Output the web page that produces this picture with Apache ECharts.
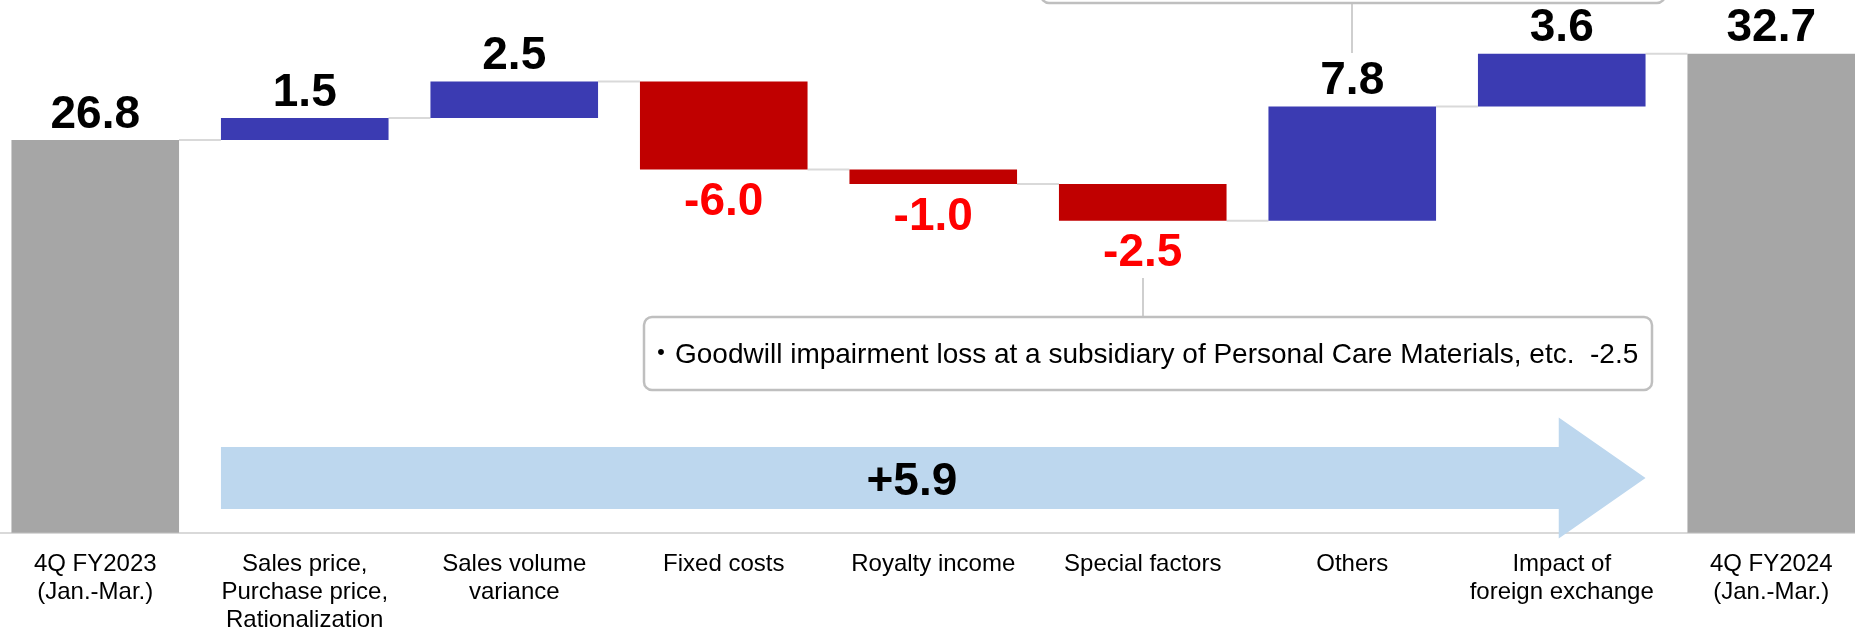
<!DOCTYPE html>
<html>
<head>
<meta charset="utf-8">
<script src="https://cdn.jsdelivr.net/npm/echarts@6/dist/echarts.min.js"></script>
<style>
  html, body { margin: 0; padding: 0; background: #fff; }
  #chart { width: 1855px; height: 635px; }
</style>
</head>
<body>
<div id="chart"></div>
<script>
// categories and values (first and last are totals, the rest are changes)
const categories = [
  '4Q FY2023\n(Jan.-Mar.)',
  'Sales price,\nPurchase price,\nRationalization',
  'Sales volume\nvariance',
  'Fixed costs',
  'Royalty income',
  'Special factors',
  'Others',
  'Impact of\nforeign exchange',
  '4Q FY2024\n(Jan.-Mar.)'
];
const values = [26.8, 1.5, 2.5, -6.0, -1.0, -2.5, 7.8, 3.6, 32.7];
const isTotal = [true, false, false, false, false, false, false, false, true];

const FONT = "'Liberation Sans', Arial, 'Noto Sans CJK JP', sans-serif";
const BLUE = '#3B3BB2';
const RED = '#C00000';
const GRAY = '#A6A6A6';

// build the invisible base and the visible part of every bar
const baseData = [];
const barData = [];
const levels = [];
let run = 0;
values.forEach((v, i) => {
  let base, height, color;
  if (isTotal[i]) {
    base = 0; height = v; run = v; color = GRAY;
  } else if (v >= 0) {
    base = run; height = v; run += v; color = BLUE;
  } else {
    base = run + v; height = -v; run += v; color = RED;
  }
  levels.push(+run.toFixed(1));
  baseData.push(+base.toFixed(1));
  barData.push({
    value: +height.toFixed(1),
    itemStyle: { color: color },
    label: v < 0
      ? { position: 'bottom', distance: 10, color: '#FF0000' }
      : { position: 'top', distance: 2, color: '#000' },
    delta: v
  });
});

// connector lines between neighbouring bars
const connectorData = levels.slice(0, -1).map((l, i) => [i, l]);

// big arrow over the changes: total change from first to last total
const totalChange = values[values.length - 1] - values[0];
const arrowData = [[1, 7, 3.73]];

const chart = echarts.init(document.getElementById('chart'));

const options = {
  animation: false,
  grid: { left: -9.5, right: -21, top: 5.3, bottom: 102.3, outerBoundsMode: 'none', containLabel: false },
  xAxis: {
    type: 'category',
    data: categories,
    axisLine: { lineStyle: { color: '#D9D9D9', width: 2 } },
    axisTick: { show: false },
    axisLabel: {
      interval: 0,
      margin: 18,
      fontSize: 24,
      lineHeight: 28,
      color: '#000',
      fontFamily: FONT
    }
  },
  yAxis: { type: 'value', min: 0, max: 36, show: false },
  series: [
    {
      type: 'bar',
      stack: 'w',
      barWidth: '80%',
      itemStyle: { color: 'transparent' },
      silent: true,
      data: baseData
    },
    {
      type: 'bar',
      stack: 'w',
      barWidth: '80%',
      label: {
        show: true,
        fontSize: 46,
        fontWeight: 'bold',
        fontFamily: FONT,
        formatter: p => p.data.delta.toFixed(1)
      },
      data: barData
    },
    {
      type: 'custom',
      z: 1,
      silent: true,
      data: connectorData,
      renderItem: (params, api) => {
        const p = api.coord([api.value(0), api.value(1)]);
        const w = api.size([1, 0])[0];
        const bw = w * 0.8;
        return {
          type: 'line',
          shape: { x1: p[0] + bw / 2, y1: p[1], x2: p[0] + w - bw / 2, y2: p[1] },
          style: { stroke: '#D9D9D9', lineWidth: 2 }
        };
      }
    },
    {
      type: 'custom',
      z: 3,
      silent: true,
      data: arrowData,
      renderItem: (params, api) => {
        const w = api.size([1, 0])[0];
        const bw = w * 0.8;
        const a = api.coord([api.value(0), api.value(2)]);
        const b = api.coord([api.value(1), api.value(2)]);
        const x0 = a[0] - bw / 2;
        const xh = b[0] - 3;
        const xt = b[0] + bw / 2;
        const y = a[1];
        const bh = 31, hh = 60.5;
        return {
          type: 'group',
          children: [
            {
              type: 'polygon',
              shape: {
                points: [
                  [x0, y - bh], [xh, y - bh], [xh, y - hh], [xt, y],
                  [xh, y + hh], [xh, y + bh], [x0, y + bh]
                ]
              },
              style: { fill: '#BDD7EE' }
            },
            {
              type: 'text',
              x: x0 + (xt - x0) * 0.485,
              y: y + 4,
              style: {
                text: '+' + totalChange.toFixed(1),
                fontSize: 46,
                fontWeight: 'bold',
                fontFamily: FONT,
                fill: '#000',
                align: 'center',
                verticalAlign: 'middle'
              }
            }
          ]
        };
      }
    }
  ],
  graphic: [
    // callout for "Others" (box sits mostly above the picture)
    {
      type: 'rect',
      shape: { x: 1041, y: -80, width: 624, height: 83, r: 8 },
      style: { fill: '#fff', stroke: '#BFBFBF', lineWidth: 2.5 }
    },
    {
      type: 'line',
      shape: { x1: 1352, y1: 4, x2: 1352, y2: 53 },
      style: { stroke: '#BFBFBF', lineWidth: 1.5 }
    },
    // callout for "Special factors"
    {
      type: 'line',
      shape: { x1: 1143, y1: 278, x2: 1143, y2: 317 },
      style: { stroke: '#BFBFBF', lineWidth: 1.5 }
    },
    {
      type: 'rect',
      shape: { x: 644, y: 317, width: 1008, height: 73, r: 8 },
      style: { fill: '#fff', stroke: '#BFBFBF', lineWidth: 2.5 }
    },
    {
      type: 'text',
      x: 647,
      y: 355,
      style: {
        text: '・Goodwill impairment loss at a subsidiary of Personal Care Materials, etc.  -2.5',
        fontSize: 28,
        fontFamily: FONT,
        fill: '#000',
        verticalAlign: 'middle'
      }
    }
  ]
};

chart.setOption(options);
</script>
</body>
</html>
